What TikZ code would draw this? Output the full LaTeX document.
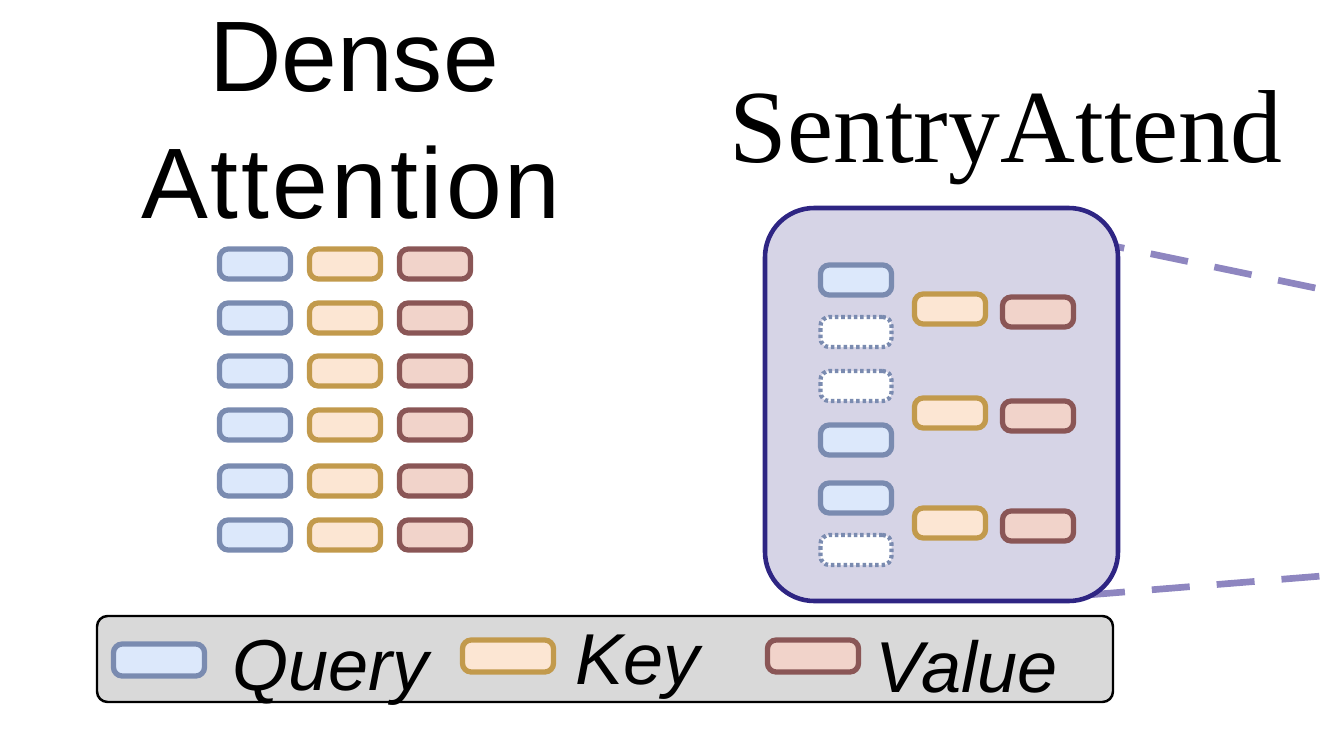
\documentclass[tikz,border=0pt]{standalone}
\usepackage{fontspec}
\setmainfont{Liberation Serif}
\newfontfamily\arialfont{Liberation Sans}
\usetikzlibrary{positioning}

\definecolor{qfill}{HTML}{DCE8FB}
\definecolor{qdraw}{HTML}{7A8BB0}
\definecolor{kfill}{HTML}{FCE6D3}
\definecolor{kdraw}{HTML}{C29A4C}
\definecolor{vfill}{HTML}{F1D3CA}
\definecolor{vdraw}{HTML}{8A5656}
\definecolor{sentryfill}{HTML}{D6D4E6}
\definecolor{sentrydraw}{HTML}{2E2583}
\definecolor{zoomline}{HTML}{8E86C0}
\definecolor{legendfill}{HTML}{D9D9D9}

\tikzset{
  token/.style={rectangle, rounded corners=2.5pt, line width=1.5pt, inner sep=0pt,
    minimum width=0.71cm, minimum height=0.30cm},
  qtok/.style={token, draw=qdraw, fill=qfill},
  ktok/.style={token, draw=kdraw, fill=kfill},
  vtok/.style={token, draw=vdraw, fill=vfill},
  gone/.style={token, draw=qdraw, fill=white, line width=1.2pt,
    dash pattern=on 1pt off 0.8pt},
  swatch/.style={minimum width=0.91cm, minimum height=0.32cm},
  zoomedge/.style={zoomline, line width=1.9pt, dash pattern=on 0.38cm off 0.27cm},
  headsans/.style={font=\arialfont\fontsize{28.5}{34}\selectfont, inner sep=0pt, anchor=base},
  headserif/.style={font=\fontsize{29.5}{35}\selectfont, inner sep=0pt, anchor=base},
  legtext/.style={font=\arialfont\itshape\fontsize{20.5}{24}\selectfont, inner sep=0pt, anchor=base west}
}

\begin{document}
\begin{tikzpicture}[x=0.01cm, y=-0.01cm]
  \useasboundingbox (0,0) rectangle (1338,736);

  % dense attention
  \node[headsans] (denseA) at (354,91) {Dense};
  \node[headsans] (denseB) at (351,218) {\addfontfeature{LetterSpace=3}Attention};
  \foreach \r/\y in {1/264, 2/318, 3/371, 4/425, 5/481, 6/535} {
    \node[qtok] (q\r) at (255,\y) {};
    \node[ktok] (k\r) at (345,\y) {};
    \node[vtok] (v\r) at (435,\y) {};
  }

  % zoom lines, behind the box
  \coordinate (tailT) at (1087,240.5);
  \coordinate (tailB) at (1087,595);
  \coordinate (zoomT) at (1338,292.7);
  \coordinate (zoomB) at (1338,574.7);
  \draw[zoomedge] (tailT) -- (zoomT);
  \draw[zoomedge] (tailB) -- (zoomB);

  % sentry attend
  \node[headserif] (sentryT) at (1006,162) {SentryAttend};
  \draw[sentrydraw, fill=sentryfill, line width=1.3pt, rounded corners=14pt]
    (765,208) rectangle (1118,601);
  \node[qtok] (sq1) at (856,280) {};
  \node[gone] (sq2) at (856,332) {};
  \node[gone] (sq3) at (856,386) {};
  \node[qtok] (sq4) at (856,440) {};
  \node[qtok] (sq5) at (856,498) {};
  \node[gone] (sq6) at (856,550) {};
  \node[ktok] (sk1) at (950,309) {};
  \node[ktok] (sk2) at (950,413) {};
  \node[ktok] (sk3) at (950,523) {};
  \node[vtok] (sv1) at (1038,312) {};
  \node[vtok] (sv2) at (1038,416) {};
  \node[vtok] (sv3) at (1038,526) {};

  % legend
  \draw[black, fill=legendfill, line width=0.7pt, rounded corners=3pt]
    (97,616) rectangle (1113,702);
  \node[qtok, swatch] (lq) at (159,660) {};
  \node[legtext] (lqt) at (232,690) {Query};
  \node[ktok, swatch] (lk) at (508,656) {};
  \node[legtext] (lkt) at (575,684) {Key};
  \node[vtok, swatch] (lv) at (813,656) {};
  \node[legtext] (lvt) at (875,692) {Value};
\end{tikzpicture}
\end{document}
